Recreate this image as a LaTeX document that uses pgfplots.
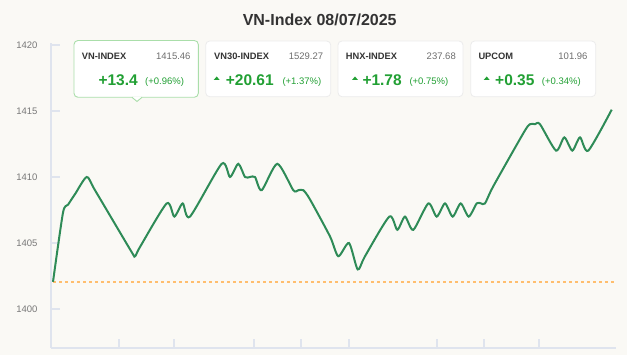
\documentclass[border=0pt]{standalone}
\usepackage{pgfplots}
\pgfplotsset{compat=1.18}
\usepackage{fontspec}
\setmainfont{Liberation Sans}
\definecolor{bg}{RGB}{250,249,245}
\definecolor{axcol}{RGB}{223,228,238}
\definecolor{linegreen}{RGB}{46,139,87}
\definecolor{dashor}{RGB}{255,190,110}
\definecolor{txtgreen}{RGB}{34,160,52}
\definecolor{darktext}{RGB}{51,51,51}
\definecolor{graytext}{RGB}{110,110,110}
\definecolor{ticktext}{RGB}{120,120,120}
\definecolor{cardborder}{RGB}{236,236,236}
\definecolor{cardgreen}{RGB}{170,222,170}
\begin{document}
\begin{tikzpicture}
\useasboundingbox (0,0) rectangle (627pt,355pt);
\fill[bg] (0,0) rectangle (627pt,355pt);
\begin{axis}[
  at={(51pt,7pt)}, anchor=south west,
  scale only axis, width=565pt, height=305pt,
  xmin=51, xmax=616, ymin=1397.05, ymax=1420.15,
  axis x line*=bottom, axis y line*=left,
  axis line style={draw=axcol, line width=1.2pt},
  every tick/.style={draw=axcol, line width=1.2pt},
  tick align=inside, major tick length=9pt,
  ytick={1400,1405,1410,1415,1420},
  xtick={119,174,254,301,349,437,484,539},
  xticklabels={},
  /pgf/number format/assume math mode=true,
  yticklabel style={font=\fontsize{9.5}{10}\selectfont, text=ticktext, xshift=-10pt},
  scaled y ticks=false,
  yticklabel={\pgfmathprintnumber[fixed,precision=0,1000 sep={}]{\tick}},
  clip=false,
]
\addplot[dashor, line width=1.5pt, dash pattern=on 3pt off 3pt] coordinates {(53,1402.06) (616,1402.06)};
\addplot[linegreen, line width=2pt, smooth, tension=0.42] table {
x y
53 1402.06
63 1407.3
68 1407.9
75 1408.7
86.7 1410
95 1409
131 1404.4
135 1404
140 1404.7
166.7 1408
174.3 1407
182.7 1408
190 1407
221.7 1411
230 1410
238.3 1411
245 1410
250 1410
255 1410
261.7 1409
277.3 1411
293.3 1409
298.3 1409
303.3 1409
310 1408.3
330 1405.5
338.3 1404
349 1405
357.7 1403
365 1404
389.3 1407
397.3 1406
405 1407
413.3 1406
428.3 1408
436.7 1407
445 1408
452.7 1407
460.7 1408
468.7 1407
476.7 1408
481 1408
485 1408
493.3 1409.3
524 1413.4
530 1414
535 1414
540 1414
556 1412
564.3 1413
572.3 1412
580 1413
588.3 1412
611.7 1415.1
};
\end{axis}
\begin{scope}[shift={(0pt,355pt)}, x=1pt, y=-1pt]
\node[anchor=base, font=\bfseries\fontsize{16}{18}\selectfont, text=darktext, inner sep=0] at (319.7,26) {VN-Index 08/07/2025};
% card 1
\draw[fill=white, draw=cardgreen, line width=0.9pt, rounded corners=4pt] (74,40.5) rectangle (198.3,97.3);
\fill[white] (132,96.8) -- (137,101.5) -- (142,96.8) -- cycle;
\draw[cardgreen, line width=0.9pt] (132,97.3) -- (137,101.5) -- (142,97.3);
% other cards
\draw[fill=white, draw=cardborder, line width=0.8pt, rounded corners=4pt] (205.7,41) rectangle (330.7,96.7);
\draw[fill=white, draw=cardborder, line width=0.8pt, rounded corners=4pt] (338,41) rectangle (463,96.7);
\draw[fill=white, draw=cardborder, line width=0.8pt, rounded corners=4pt] (470.7,41) rectangle (595.7,96.7);
\tikzset{lbl/.style={anchor=base west, font=\bfseries\fontsize{9.3}{10}\selectfont, text=darktext, inner sep=0},
         val/.style={anchor=base east, font=\fontsize{9.5}{10}\selectfont, text=graytext, inner sep=0},
         big/.style={anchor=base west, font=\bfseries\fontsize{15.5}{17}\selectfont, text=txtgreen, inner sep=0},
         pct/.style={anchor=base west, font=\fontsize{9.5}{10}\selectfont, text=txtgreen, inner sep=0}}
\node[lbl] at (81.7,60) {VN-INDEX};
\node[val] at (190.7,60) {1415.46};
\node[big] at (98.3,85.3) {+13.4};
\node[pct] at (145,85) {(+0.96\%)};
\node[lbl] at (214,60) {VN30-INDEX};
\node[val] at (323.3,60) {1529.27};
\fill[txtgreen] (213.7,80) -- (216.7,76.5) -- (219.7,80) -- cycle;
\node[big] at (225.7,85.3) {+20.61};
\node[pct] at (282.3,85) {(+1.37\%)};
\node[lbl] at (345.7,60) {HNX-INDEX};
\node[val] at (456,60) {237.68};
\fill[txtgreen] (352,80) -- (355,76.5) -- (358,80) -- cycle;
\node[big] at (362.3,85.3) {+1.78};
\node[pct] at (409.3,85) {(+0.75\%)};
\node[lbl] at (478.3,60) {UPCOM};
\node[val] at (587.7,60) {101.96};
\fill[txtgreen] (483.7,80) -- (486.7,76.5) -- (489.7,80) -- cycle;
\node[big] at (495,85.3) {+0.35};
\node[pct] at (541.7,85) {(+0.34\%)};
\end{scope}
\end{tikzpicture}
\end{document}
